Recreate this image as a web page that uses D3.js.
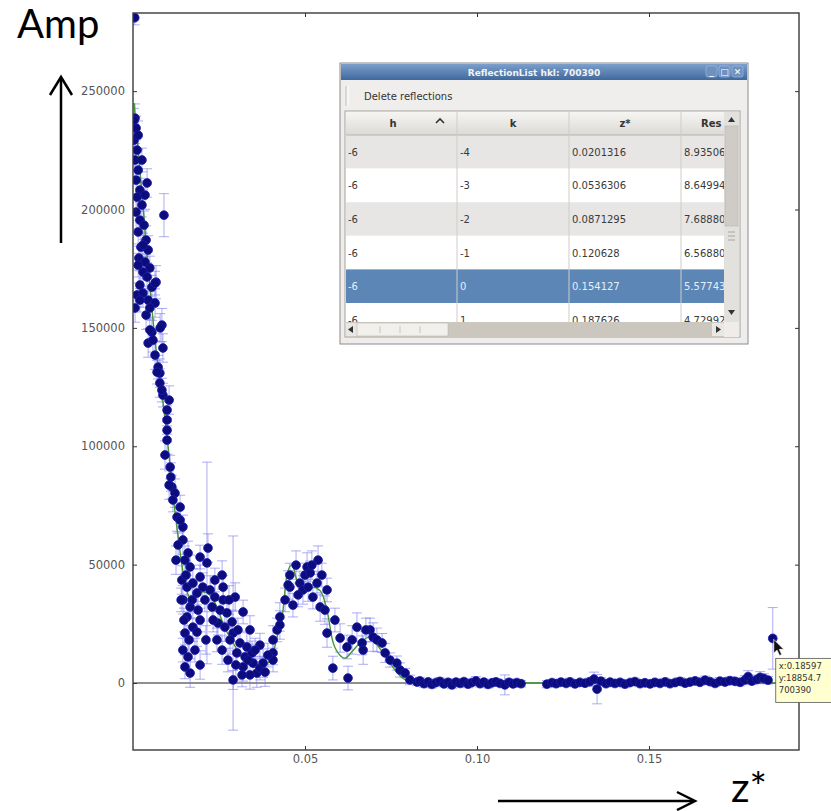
<!DOCTYPE html>
<html>
<head>
<meta charset="utf-8">
<script src="https://cdn.jsdelivr.net/npm/d3@7"></script>
<style>
  body { margin: 0; background: #fff; }
  svg { display: block; }
</style>
</head>
<body>
<svg id="chart" width="831" height="811"></svg>
<script>
// ---- tick values ----
const xTicks = [0.05, 0.10, 0.15];
const yTicks = [0, 50000, 100000, 150000, 200000, 250000];

// ---- measured reflections: [z*, amplitude, error] ----
const steepPoints = [
  [0.0005, 281000, 3000], [0.0006, 238600, 6000], [0.0009, 234400, 5000], [0.0003, 229300, 6000],
  [0.0012, 225100, 5000], [0.0006, 220900, 7000], [0.0015, 216600, 5000], [0.0009, 212400, 6000],
  [0.0020, 208200, 5000], [0.0012, 205200, 6000], [0.0026, 201900, 5000], [0.0009, 198900, 7000],
  [0.0020, 195500, 5000], [0.0032, 193400, 6000], [0.0015, 190500, 5000], [0.0038, 187100, 6000],
  [0.0023, 184100, 5000], [0.0044, 182900, 6000], [0.0017, 179500, 5000], [0.0035, 177800, 6000],
  [0.0049, 175300, 5000], [0.0029, 173600, 6000], [0.0055, 167200, 5000], [0.0020, 168100, 6000],
  [0.0012, 163900, 5000], [0.0041, 211200, 6000], [0.0090, 197600, 9100], [0.0067, 169300, 7000],
  [0.0084, 151200, 7000], [0.0006, 158400, 6000], [0.0015, 176500, 5000], [0.0041, 171500, 6000],
  [0.0064, 168900, 5000], [0.0029, 164700, 6000], [0.0044, 161700, 5000], [0.0064, 160500, 6000],
  [0.0049, 158400, 5000], [0.0079, 150000, 6000], [0.0055, 148200, 5000], [0.0044, 143600, 6000],
  [0.0058, 144800, 5000], [0.0087, 141500, 6000], [0.0073, 133400, 5000], [0.0078, 130900, 6000],
  [0.0070, 131300, 5000], [0.0078, 126700, 6000], [0.0087, 121600, 5000], [0.0105, 119500, 6000],
  [0.0099, 115300, 5000], [0.0099, 111100, 6000], [0.0099, 106800, 5000], [0.0099, 102600, 6000],
  [0.0108, 91200, 5000], [0.0110, 87000, 6000], [0.0113, 82800, 5000], [0.0122, 80200, 6000],
  [0.0137, 74300, 5000], [0.0128, 70100, 6000], [0.0145, 65900, 5000],
  [0.0020, 161700, 5000], [0.0038, 155400, 6000], [0.0049, 149100, 5000], [0.0064, 138500, 6000],
  [0.0084, 123700, 5000], [0.0093, 96300, 6000], [0.0116, 77300, 5000], [0.0105, 83600, 6000],
  [0.0003, 237700, 5000], [0.0015, 231400, 6000], [0.0026, 220900, 5000], [0.0035, 206100, 6000],
  [0.0029, 185000, 5000]
];

const troughPoints = [
  [0.0137, 68800, 5000], [0.0145, 60400, 6000], [0.0160, 54900, 5000], [0.0151, 51900, 6000],
  [0.0166, 49000, 5000], [0.0142, 43500, 6000], [0.0157, 40500, 5000], [0.0174, 42200, 6000],
  [0.0195, 53200, 5000], [0.0218, 57000, 6000], [0.0215, 50700, 42600], [0.0195, 44800, 5000],
  [0.0203, 40500, 6000], [0.0186, 38000, 5000], [0.0145, 35100, 6000], [0.0166, 32100, 5000],
  [0.0157, 27900, 6000], [0.0195, 26600, 5000], [0.0174, 23600, 6000], [0.0151, 21100, 5000],
  [0.0186, 21500, 6000], [0.0145, 13900, 5000], [0.0160, 11000, 6000], [0.0151, 6800, 5000],
  [0.0166, 4200, 6000], [0.0238, 43500, 5000], [0.0259, 45600, 6000], [0.0262, 40500, 5000],
  [0.0238, 36300, 6000], [0.0262, 35100, 5000], [0.0230, 32100, 6000], [0.0253, 30800, 5000],
  [0.0273, 29600, 6000], [0.0247, 25300, 5000], [0.0267, 23600, 6000], [0.0288, 25800, 5000],
  [0.0297, 36300, 6000], [0.0291, 21100, 41000], [0.0305, 22400, 5000], [0.0282, 18200, 6000],
  [0.0311, 16900, 5000], [0.0331, 15200, 6000], [0.0302, 12700, 5000], [0.0326, 11000, 6000],
  [0.0346, 12700, 5000], [0.0320, 6800, 6000], [0.0349, 8400, 5000], [0.0360, 4200, 6000],
  [0.0369, 6300, 5000], [0.0291, 1300, 4000], [0.0340, 3400, 6000], [0.0369, 16000, 5000],
  [0.0378, 8400, 6000], [0.0407, 12700, 5000], [0.0407, 18200, 6000], [0.0419, 22400, 5000],
  [0.0427, 24500, 6000], [0.0407, 9700, 5000], [0.0427, 27900, 6000],
  [0.0131, 58300, 5000], [0.0154, 45600, 6000], [0.0172, 35100, 5000], [0.0189, 30800, 6000],
  [0.0209, 35100, 5000], [0.0224, 39300, 6000], [0.0233, 26600, 5000], [0.0212, 18200, 6000],
  [0.0180, 13900, 5000], [0.0195, 7600, 6000], [0.0244, 18200, 5000], [0.0259, 13900, 6000],
  [0.0276, 9700, 5000], [0.0299, 7600, 6000], [0.0317, 3400, 5000], [0.0334, 9700, 6000],
  [0.0355, 13900, 5000], [0.0384, 4600, 6000], [0.0392, 11800, 5000], [0.0279, 35100, 6000],
  [0.0320, 30000, 5000], [0.0340, 22400, 6000], [0.0148, 26600, 5000], [0.0163, 18200, 6000],
  [0.0140, 35100, 5000], [0.0125, 51900, 6000]
];

const peakPoints = [
  [0.0456, 45600, 5000], [0.0456, 40500, 6000], [0.0465, 32900, 5000], [0.0474, 49800, 6000],
  [0.0485, 42200, 5000], [0.0494, 39300, 6000], [0.0500, 45600, 5000], [0.0506, 49000, 6000],
  [0.0515, 46500, 5000], [0.0509, 40500, 6000], [0.0523, 36300, 5000], [0.0538, 51900, 6000],
  [0.0535, 42200, 5000], [0.0544, 32100, 6000], [0.0564, 39300, 5000], [0.0564, 21100, 6000],
  [0.0581, 6300, 5000], [0.0602, 19000, 6000], [0.0622, 15200, 5000], [0.0625, 2100, 5000],
  [0.0651, 23600, 6000], [0.0666, 16900, 5000], [0.0669, 13900, 6000], [0.0689, 22400, 5000],
  [0.0698, 19400, 6000], [0.0709, 18200, 5000], [0.0724, 16900, 4000], [0.0733, 12700, 4000],
  [0.0747, 9700, 3000], [0.0767, 8400, 3000], [0.0776, 5500, 3000], [0.0791, 4200, 2000],
  [0.0805, 1300, 2000], [0.0826, 400, 1500],
  [0.0442, 35100, 5000], [0.0451, 41400, 6000], [0.0480, 37200, 5000], [0.0520, 49800, 6000],
  [0.0549, 45600, 5000], [0.0558, 30800, 6000], [0.0587, 26600, 5000], [0.0637, 18200, 6000],
  [0.0677, 22400, 5000]
];

const tailPoints = [
  [0.0834, 900, 1500], [0.0846, -300, 1500], [0.0858, 500, 1200], [0.0869, -600, 1500],
  [0.0881, 200, 1200], [0.0892, 700, 1500], [0.0904, -400, 1300], [0.0916, 300, 1500],
  [0.0927, -800, 1600], [0.0939, 400, 1200], [0.0951, -200, 1500], [0.0962, 600, 1300],
  [0.0974, -500, 1500], [0.0985, 200, 1200], [0.0997, 900, 1800], [0.1009, -300, 1400],
  [0.1020, 400, 1300], [0.1032, -600, 1500], [0.1044, 100, 1200], [0.1055, 500, 1400],
  [0.1067, -200, 1300], [0.1081, -800, 4200], [0.1093, 300, 1500], [0.1105, -400, 1300],
  [0.1116, 200, 1200], [0.1128, -300, 1400],
  [0.1203, -500, 1500], [0.1218, 200, 1200], [0.1230, -300, 1400], [0.1244, 400, 1300],
  [0.1259, -200, 1200], [0.1270, 500, 1500], [0.1285, -400, 1300], [0.1299, 300, 1200],
  [0.1314, -100, 1400], [0.1328, 600, 1500], [0.1340, 1600, 3000], [0.1349, -2600, 6200],
  [0.1360, 800, 1500], [0.1375, -300, 1300], [0.1387, 400, 1200], [0.1401, -200, 1400],
  [0.1416, 300, 1300], [0.1430, -500, 1500], [0.1445, 200, 1200], [0.1459, 600, 1400],
  [0.1474, -300, 1300], [0.1488, 100, 1200], [0.1503, -400, 1400], [0.1517, 300, 1300],
  [0.1532, -200, 1200], [0.1547, 500, 1500], [0.1561, -300, 1300], [0.1576, 200, 1200],
  [0.1590, 700, 1600], [0.1605, -100, 1300], [0.1619, 400, 1400], [0.1634, 900, 1500],
  [0.1648, 300, 1300], [0.1663, 1200, 1700], [0.1677, 600, 1400], [0.1692, -200, 1300],
  [0.1706, 800, 1500], [0.1721, 400, 1400], [0.1735, 1000, 1600], [0.1750, 700, 1400],
  [0.1765, 300, 1500], [0.1779, 1300, 1800], [0.1788, 2700, 2500], [0.1799, 800, 1500],
  [0.1814, 1500, 1800], [0.1823, 2400, 2400], [0.1834, 1900, 2000], [0.1846, 1200, 1600]
];

// reflection under the mouse pointer (shown in the tooltip)
const hoverPoint = [0.18597, 18854.7, 13000];
const hoverId = "700390";

// ---- fitted model curve: [z*, amplitude] ----
const fitCurve = [
  [0.0003, 245000], [0.0015, 225000], [0.0030, 200000], [0.0041, 180000], [0.0055, 158000],
  [0.0070, 137000], [0.0087, 119000], [0.0102, 100000], [0.0116, 80000], [0.0130, 63000],
  [0.0142, 50000], [0.0155, 40000], [0.0165, 36000], [0.0185, 36500], [0.0203, 38500],
  [0.0225, 37000], [0.0244, 32000], [0.0265, 24000], [0.0291, 17000], [0.0320, 10000],
  [0.0345, 7000], [0.0360, 6500], [0.0385, 7500], [0.0407, 12500], [0.0420, 20000],
  [0.0433, 27000], [0.0448, 46000], [0.0462, 50000], [0.0475, 44000], [0.0490, 40000],
  [0.0520, 40500], [0.0544, 39000], [0.0565, 30000], [0.0580, 18000], [0.0600, 12000],
  [0.0616, 10500], [0.0635, 13000], [0.0660, 17000], [0.0689, 19500], [0.0710, 16000],
  [0.0740, 10000], [0.0770, 4000], [0.0797, 1000], [0.0850, 0], [0.1200, 0], [0.1600, 0], [0.1936, 0]
];

// ---- reflection list table ----
const tableHeaders = ["h", "k", "z*", "Res"];
const hCol = ["-6", "-6", "-6", "-6", "-6", "-6"];
const kCol = ["-4", "-3", "-2", "-1", "0", "1"];
const zCol = ["0.0201316", "0.0536306", "0.0871295", "0.120628", "0.154127", "0.187626"];
const resCol = ["8.93506", "8.64994", "7.68880", "6.56880", "5.57743", "4.72992"];
const selectedRow = 4;

// ================= drawing =================
const svg = d3.select("#chart");
const defs = svg.append("defs");

const plotL = 133, plotR = 799, plotT = 13, plotB = 750;
const x = d3.scaleLinear().domain([0, 0.1936]).range([plotL, plotR]);
const y = d3.scaleLinear().domain([-28300, 283000]).range([plotB, plotT]);

defs.append("clipPath").attr("id", "plotClip")
  .append("rect").attr("x", plotL).attr("y", plotT).attr("width", plotR - plotL).attr("height", plotB - plotT);

const plot = svg.append("g").attr("clip-path", "url(#plotClip)");

// zero baseline
plot.append("line")
  .attr("x1", plotL).attr("x2", plotR)
  .attr("y1", y(0)).attr("y2", y(0))
  .attr("stroke", "#222").attr("stroke-width", 1.2);

const allPoints = [...steepPoints, ...troughPoints, ...peakPoints, ...tailPoints, hoverPoint];

// error bars
const eb = plot.append("g")
  .attr("stroke", "#7474ee").attr("stroke-opacity", 0.6).attr("stroke-width", 1);
const ebG = eb.selectAll("g").data(allPoints).join("g");
ebG.append("line")
  .attr("x1", d => x(d[0])).attr("x2", d => x(d[0]))
  .attr("y1", d => y(d[1] - d[2])).attr("y2", d => y(d[1] + d[2]));
ebG.append("line")
  .attr("x1", d => x(d[0]) - 5).attr("x2", d => x(d[0]) + 5)
  .attr("y1", d => y(d[1] + d[2])).attr("y2", d => y(d[1] + d[2]));
ebG.append("line")
  .attr("x1", d => x(d[0]) - 5).attr("x2", d => x(d[0]) + 5)
  .attr("y1", d => y(d[1] - d[2])).attr("y2", d => y(d[1] - d[2]));

// fitted curve
plot.append("path")
  .datum(fitCurve)
  .attr("fill", "none")
  .attr("stroke", "#3f9a30")
  .attr("stroke-width", 1.4)
  .attr("d", d3.line().x(d => x(d[0])).y(d => y(d[1])).curve(d3.curveMonotoneX));

// data points
plot.append("g").selectAll("circle").data(allPoints).join("circle")
  .attr("cx", d => x(d[0])).attr("cy", d => y(d[1]))
  .attr("r", 4.4)
  .attr("fill", "#0c0c7c")
  .attr("stroke", "#1d1dae").attr("stroke-width", 0.8);

// axes (ticks point inward)
const tickFont = "DejaVu Sans, sans-serif";
function styleAxis(g) {
  g.select(".domain").remove();
  g.selectAll(".tick line").attr("stroke", "#333");
  g.selectAll(".tick text").attr("fill", "#555").attr("font-size", 11.5).attr("font-family", tickFont);
}
svg.append("g").attr("transform", `translate(${plotL},0)`)
  .call(d3.axisLeft(y).tickValues(yTicks).tickSizeInner(-4).tickSizeOuter(0).tickPadding(8).tickFormat(d3.format("d")))
  .call(styleAxis);
svg.append("g").attr("transform", `translate(${plotR},0)`)
  .call(d3.axisRight(y).tickValues(yTicks).tickSizeInner(-4).tickSizeOuter(0).tickFormat(""))
  .call(styleAxis);
svg.append("g").attr("transform", `translate(0,${plotB})`)
  .call(d3.axisBottom(x).tickValues(xTicks).tickSizeInner(-4).tickSizeOuter(0).tickPadding(5).tickFormat(d3.format(".2f")))
  .call(styleAxis);
svg.append("g").attr("transform", `translate(0,${plotT})`)
  .call(d3.axisTop(x).tickValues(xTicks).tickSizeInner(-4).tickSizeOuter(0).tickFormat(""))
  .call(styleAxis);

// plot frame
svg.append("rect")
  .attr("x", plotL).attr("y", plotT).attr("width", plotR - plotL).attr("height", plotB - plotT)
  .attr("fill", "none").attr("stroke", "#3a3a3a").attr("stroke-width", 1.4);

// ---------- reflection list window ----------
const win = { x: 340, y: 63, w: 408, h: 281 };
const dlg = svg.append("g").attr("font-family", "DejaVu Sans, sans-serif");

const tg = defs.append("linearGradient").attr("id", "titleGrad").attr("x1", 0).attr("x2", 0).attr("y1", 0).attr("y2", 1);
tg.append("stop").attr("offset", "0%").attr("stop-color", "#7c9fcb");
tg.append("stop").attr("offset", "100%").attr("stop-color", "#3f699e");
const hg = defs.append("linearGradient").attr("id", "headGrad").attr("x1", 0).attr("x2", 0).attr("y1", 0).attr("y2", 1);
hg.append("stop").attr("offset", "0%").attr("stop-color", "#f6f5f3");
hg.append("stop").attr("offset", "100%").attr("stop-color", "#dcdad6");

dlg.append("rect").attr("x", win.x).attr("y", win.y).attr("width", win.w).attr("height", win.h)
  .attr("fill", "#eeedeb").attr("stroke", "#8c8c8c");
dlg.append("rect").attr("x", win.x + 1).attr("y", win.y + 1).attr("width", win.w - 2).attr("height", 16)
  .attr("fill", "url(#titleGrad)");
dlg.append("text").attr("x", win.x + win.w / 2 - 10).attr("y", win.y + 12.5)
  .attr("text-anchor", "middle").attr("font-size", 9).attr("font-weight", "bold").attr("fill", "#f2f2f2")
  .text("ReflectionList hkl: " + hoverId);
// window buttons
["_", "\u25A1", "\u2715"].forEach((s, i) => {
  const bx = win.x + win.w - 42 + i * 13;
  dlg.append("rect").attr("x", bx).attr("y", win.y + 3).attr("width", 11).attr("height", 11).attr("rx", 2)
    .attr("fill", "#6d92c2").attr("stroke", "#a9c1e0").attr("stroke-width", 0.6);
  dlg.append("text").attr("x", bx + 5.5).attr("y", win.y + 12).attr("text-anchor", "middle")
    .attr("font-size", 9).attr("font-weight", "bold").attr("fill", "#fff").text(s);
});

// toolbar
dlg.append("rect").attr("x", win.x + 1).attr("y", win.y + 17).attr("width", win.w - 2).attr("height", 30)
  .attr("fill", "#efeeec");
dlg.append("line").attr("x1", 346).attr("x2", 346).attr("y1", 86).attr("y2", 106).attr("stroke", "#c2c0bc");
dlg.append("line").attr("x1", 348).attr("x2", 348).attr("y1", 86).attr("y2", 106).attr("stroke", "#ffffff");
dlg.append("text").attr("x", 364).attr("y", 100).attr("font-size", 10).attr("fill", "#333")
  .text("Delete reflections");

// table
const tbl = { x: 345, y: 111, w: 395, h: 226 };
const colX = [345, 457, 569, 681];
const colW = 112;
const innerRight = 724;
const headTop = 112, headH = 23;
const rowTop = 135, rowH = 33.6;

dlg.append("rect").attr("x", tbl.x).attr("y", tbl.y).attr("width", tbl.w).attr("height", tbl.h)
  .attr("fill", "#fff").attr("stroke", "#a3a19d");

defs.append("clipPath").attr("id", "tableClip")
  .append("rect").attr("x", tbl.x + 1).attr("y", headTop).attr("width", innerRight - tbl.x - 1).attr("height", 322 - headTop);
const body = dlg.append("g").attr("clip-path", "url(#tableClip)");

const rowsData = hCol.map((h, i) => [h, kCol[i], zCol[i], resCol[i]]);
body.selectAll("rect.row").data(rowsData).join("rect")
  .attr("x", tbl.x + 1).attr("y", (d, i) => rowTop + i * rowH)
  .attr("width", innerRight - tbl.x).attr("height", rowH)
  .attr("fill", (d, i) => i === selectedRow ? "#5b86b6" : (i % 2 === 0 ? "#e7e6e4" : "#ffffff"));

body.append("rect").attr("x", tbl.x + 1).attr("y", headTop).attr("width", innerRight - tbl.x).attr("height", headH)
  .attr("fill", "url(#headGrad)");
body.append("line").attr("x1", tbl.x).attr("x2", innerRight).attr("y1", headTop + headH).attr("y2", headTop + headH)
  .attr("stroke", "#b5b3af");

// column separators
body.selectAll("line.col").data(colX.slice(1)).join("line")
  .attr("x1", d => d).attr("x2", d => d).attr("y1", headTop).attr("y2", 322)
  .attr("stroke", "#cfcdc9");

// headers
body.selectAll("text.head").data(tableHeaders).join("text")
  .attr("x", (d, i) => i === 0 ? colX[0] + 48 : (i === 3 ? colX[3] + 20 : colX[i] + colW / 2))
  .attr("y", headTop + 15)
  .attr("text-anchor", (d, i) => i === 3 ? "start" : "middle")
  .attr("font-size", 10).attr("font-weight", "bold").attr("fill", "#333")
  .text(d => d);
// sort indicator
body.append("path").attr("d", "M436,123 L440,119 L444,123").attr("fill", "none")
  .attr("stroke", "#333").attr("stroke-width", 1.6);

// cells
rowsData.forEach((row, i) => {
  row.forEach((v, j) => {
    body.append("text")
      .attr("x", colX[j] + 3).attr("y", rowTop + i * rowH + rowH / 2 + 4)
      .attr("font-size", 10)
      .attr("fill", i === selectedRow ? "#e6eef8" : "#3a3a3a")
      .text(v);
  });
});

// vertical scrollbar
dlg.append("rect").attr("x", innerRight).attr("y", headTop).attr("width", 15).attr("height", 210)
  .attr("fill", "#e3e1dd");
dlg.append("rect").attr("x", innerRight + 1).attr("y", 126).attr("width", 13).attr("height", 100)
  .attr("fill", "#cfccc7").attr("stroke", "#b9b6b0").attr("stroke-width", 0.6);
[232, 236, 240].forEach(gy => dlg.append("line").attr("x1", innerRight + 4).attr("x2", innerRight + 11)
  .attr("y1", gy).attr("y2", gy).attr("stroke", "#a9a6a1"));
dlg.append("path").attr("d", `M${innerRight + 4},${122} L${innerRight + 7.5},${117} L${innerRight + 11},${122} Z`).attr("fill", "#333");
dlg.append("path").attr("d", `M${innerRight + 4},${310} L${innerRight + 7.5},${315} L${innerRight + 11},${310} Z`).attr("fill", "#333");

// horizontal scrollbar
dlg.append("rect").attr("x", tbl.x + 1).attr("y", 322).attr("width", innerRight - tbl.x + 14).attr("height", 15)
  .attr("fill", "#cbc6be");
dlg.append("rect").attr("x", tbl.x + 1).attr("y", 323).attr("width", 11).attr("height", 13).attr("fill", "#e9e7e3");
dlg.append("rect").attr("x", 357).attr("y", 323).attr("width", 91).attr("height", 13)
  .attr("fill", "#f1f0ed").attr("stroke", "#bdb9b2").attr("stroke-width", 0.6);
[380, 400, 420].forEach(gx => dlg.append("line").attr("x1", gx).attr("x2", gx).attr("y1", 326).attr("y2", 333)
  .attr("stroke", "#c9c6c0"));
dlg.append("rect").attr("x", 712).attr("y", 323).attr("width", 12).attr("height", 13).attr("fill", "#e9e7e3");
dlg.append("path").attr("d", "M353,326 L348,329.5 L353,333 Z").attr("fill", "#333");
dlg.append("path").attr("d", "M716,326 L721,329.5 L716,333 Z").attr("fill", "#333");
dlg.append("rect").attr("x", innerRight).attr("y", 322).attr("width", 15).attr("height", 15).attr("fill", "#eeedeb");

// ---------- tooltip for the hovered reflection ----------
const hx = x(hoverPoint[0]), hy = y(hoverPoint[1]);
const tip = svg.append("g").attr("transform", `translate(${hx + 3},${hy + 20})`)
  .attr("font-family", "DejaVu Sans, sans-serif");
tip.append("rect").attr("width", 62).attr("height", 44)
  .attr("fill", "#ffffcf").attr("stroke", "#555").attr("stroke-width", 0.8);
[`x:${hoverPoint[0]}`, `y:${hoverPoint[1]}`, hoverId].forEach((t, i) =>
  tip.append("text").attr("x", 3).attr("y", 11 + i * 12).attr("font-size", 8.5).attr("fill", "#333").text(t));

// mouse pointer
svg.append("path")
  .attr("transform", `translate(${hx + 1},${hy + 1})`)
  .attr("d", "M0,0 L0,14 L3.3,10.8 L5.8,16.2 L8,15.2 L5.6,10 L10,10 Z")
  .attr("fill", "#111").attr("stroke", "#fff").attr("stroke-width", 0.7);

// ---------- axis annotations ----------
const ann = svg.append("g").attr("font-family", "Lato, 'Open Sans', sans-serif").attr("fill", "#000");
ann.append("text").attr("x", 17).attr("y", 38).attr("font-size", 40).text("Amp");
ann.append("line").attr("x1", 61).attr("x2", 61).attr("y1", 243).attr("y2", 78)
  .attr("stroke", "#000").attr("stroke-width", 2.5);
ann.append("path").attr("d", "M50,95 L61,77 L72,95").attr("fill", "none")
  .attr("stroke", "#000").attr("stroke-width", 2.5);

ann.append("line").attr("x1", 498).attr("x2", 693).attr("y1", 801).attr("y2", 801)
  .attr("stroke", "#000").attr("stroke-width", 2.5);
ann.append("path").attr("d", "M677,792 L695,801 L677,810").attr("fill", "none")
  .attr("stroke", "#000").attr("stroke-width", 2.5);
ann.append("text").attr("x", 731).attr("y", 802).attr("font-size", 41).text("z*");
</script>
</body>
</html>
